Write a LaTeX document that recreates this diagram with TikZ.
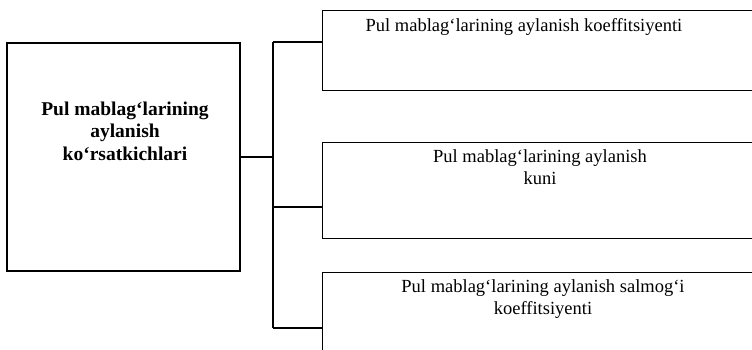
\documentclass[tikz,border=0pt]{standalone}
\usepackage{fontspec}
\setmainfont{Liberation Serif}
\begin{document}
\begin{tikzpicture}[x=1pt,y=-1pt,
  box/.style={draw,line width=1.3pt,rectangle,inner sep=0pt},
  txt/.style={font=\fontsize{18.5}{22}\selectfont,align=center,inner sep=0pt},
  btxt/.style={font=\bfseries\fontsize{19.5}{22.5}\selectfont,align=center,inner sep=0pt},
  wire/.style={line width=1.3pt}]
\useasboundingbox (0,0) rectangle (752,350);
\clip (0,0) rectangle (752,350);
\node[box,minimum width=233pt,minimum height=228pt] (main) at (123.5,157) {};
\node[btxt] (maintxt) at (125,131) {Pul mablag‘larining\\aylanish\\ko‘rsatkichlari};
\node[box,minimum width=450pt,minimum height=80pt,anchor=north west] (b1) at (322,10) {};
\node[box,minimum width=450pt,minimum height=96pt,anchor=north west] (b2) at (322,142) {};
\node[box,minimum width=450pt,minimum height=96pt,anchor=north west] (b3) at (322,272) {};
\node[txt] (t1) at (524,27) {Pul mablag‘larining aylanish koeffitsiyenti};
\node[txt] (t2) at (540,167) {Pul mablag‘larining aylanish\\kuni};
\node[txt] (t3) at (543,299) {Pul mablag‘larining aylanish salmog‘i\\koeffitsiyenti};
\coordinate (j) at (273,157);
\coordinate (jt) at (273,42);
\coordinate (jb) at (273,328);
\draw[wire] (main.east) -- (j);
\draw[wire] (jt) -- (jb);
\draw[wire] (jt) -- (jt -| b1.west);
\draw[wire] (273,207) -- (b2.west |- 0,207);
\draw[wire] (jb) -- (jb -| b3.west);
\end{tikzpicture}
\end{document}
